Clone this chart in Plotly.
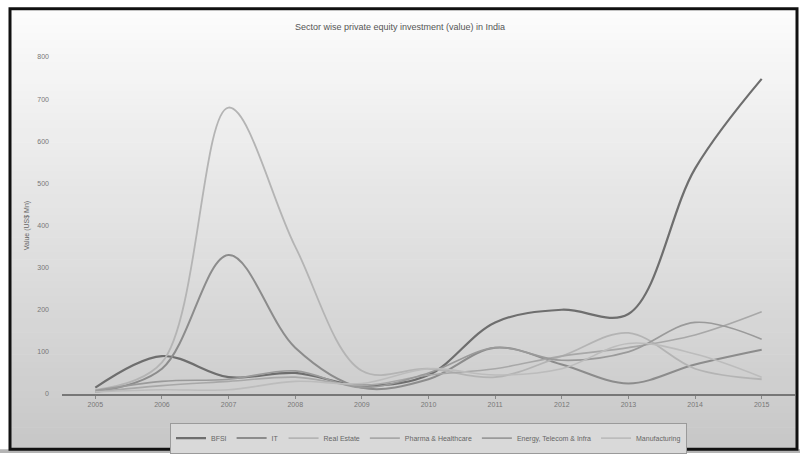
import plotly.graph_objects as go

# Sector-wise private equity investment values (US$ Mn) by year
years = ["2005", "2006", "2007", "2008", "2009", "2010", "2011", "2012", "2013", "2014", "2015"]

bfsi = [15, 90, 40, 50, 20, 45, 170, 200, 190, 535, 748]
it_ites = [5, 60, 330, 110, 15, 35, 110, 70, 25, 70, 105]
real_estate = [10, 75, 680, 350, 55, 60, 40, 90, 145, 60, 35]
pharma = [5, 20, 30, 40, 20, 45, 60, 90, 110, 140, 195]
energy_infra = [8, 30, 35, 55, 15, 50, 110, 80, 100, 170, 130]
manufacturing = [5, 10, 10, 30, 25, 60, 45, 60, 120, 95, 40]

series_names = ["BFSI", "IT", "Real Estate", "Pharma & Healthcare",
                "Energy, Telecom & Infra", "Manufacturing"]
series_values = [bfsi, it_ites, real_estate, pharma, energy_infra, manufacturing]
series_colors = ["#6e6e6e", "#8c8c8c", "#b4b4b4", "#a8a8a8", "#9a9a9a", "#bcbcbc"]
series_widths = [2.2, 2.0, 1.8, 1.6, 1.6, 1.6]

W, H = 800, 459
L, R, T, B = 62, 5, 57, 60
PW, PH = W - L - R, H - T - B


def px_x(p):
    return (p - L) / PW


def px_y(p):
    return (H - B - p) / PH


fig = go.Figure()
for name, vals, col, w in zip(series_names, series_values, series_colors, series_widths):
    fig.add_trace(go.Scatter(
        x=years, y=vals, name=name, mode="lines",
        line=dict(color=col, width=w, shape="spline", smoothing=1.0),
    ))

shapes = []
# vertical gradient background inside the frame
top, bottom = 10, 455
n = 60
for i in range(n):
    y0 = top + (bottom - top) * i / n
    y1 = top + (bottom - top) * (i + 1) / n + 0.6
    t = i / (n - 1)
    g = int(252 - t * (252 - 200))
    shapes.append(dict(type="rect", xref="paper", yref="paper", layer="below",
                       x0=px_x(11), x1=px_x(797), y0=px_y(y1), y1=px_y(y0),
                       line=dict(width=0), fillcolor=f"rgb({g},{g},{g})"))
# strip below the frame
shapes.append(dict(type="rect", xref="paper", yref="paper", layer="below",
                   x0=px_x(0), x1=px_x(800), y0=px_y(459), y1=px_y(455),
                   line=dict(width=0), fillcolor="#b4b4b4"))
# black outer frame
shapes.append(dict(type="rect", xref="paper", yref="paper", layer="above",
                   x0=px_x(10), x1=px_x(797), y0=px_y(455), y1=px_y(8),
                   line=dict(color="#111111", width=3), fillcolor="rgba(0,0,0,0)"))

fig.update_layout(
    width=W, height=H,
    margin=dict(l=L, r=R, t=T, b=B),
    paper_bgcolor="white",
    plot_bgcolor="rgba(0,0,0,0)",
    shapes=shapes,
    title=dict(text="Sector wise private equity investment (value) in India",
               x=0.5, xanchor="center", y=1 - 27 / H, yanchor="middle",
               font=dict(family="Liberation Sans", size=9, color="#555555")),
    font=dict(family="Liberation Sans", size=7, color="#666666"),
    xaxis=dict(type="category", range=[-0.5, 10.5], showgrid=False,
               showline=True, linecolor="#777777", linewidth=1.5,
               ticks="outside", ticklen=3, tickcolor="#888888",
               tickfont=dict(size=7, color="#777777")),
    yaxis=dict(range=[0, 800], dtick=100, showgrid=False, showline=False,
               zeroline=False, tickfont=dict(size=7, color="#777777"),
               ticks="", ticklabelstandoff=12,
               title=dict(text="Value (US$ Mn)", standoff=6,
                          font=dict(size=7, color="#666666"))),
    legend=dict(orientation="h", x=0.5, xanchor="center", y=px_y(428), yanchor="top",
                bgcolor="#d9d9d9", bordercolor="#9a9a9a", borderwidth=1,
                font=dict(size=7, color="#666666"), itemwidth=30,
                tracegroupgap=0),
    showlegend=True,
)

fig.write_html("out.html")
